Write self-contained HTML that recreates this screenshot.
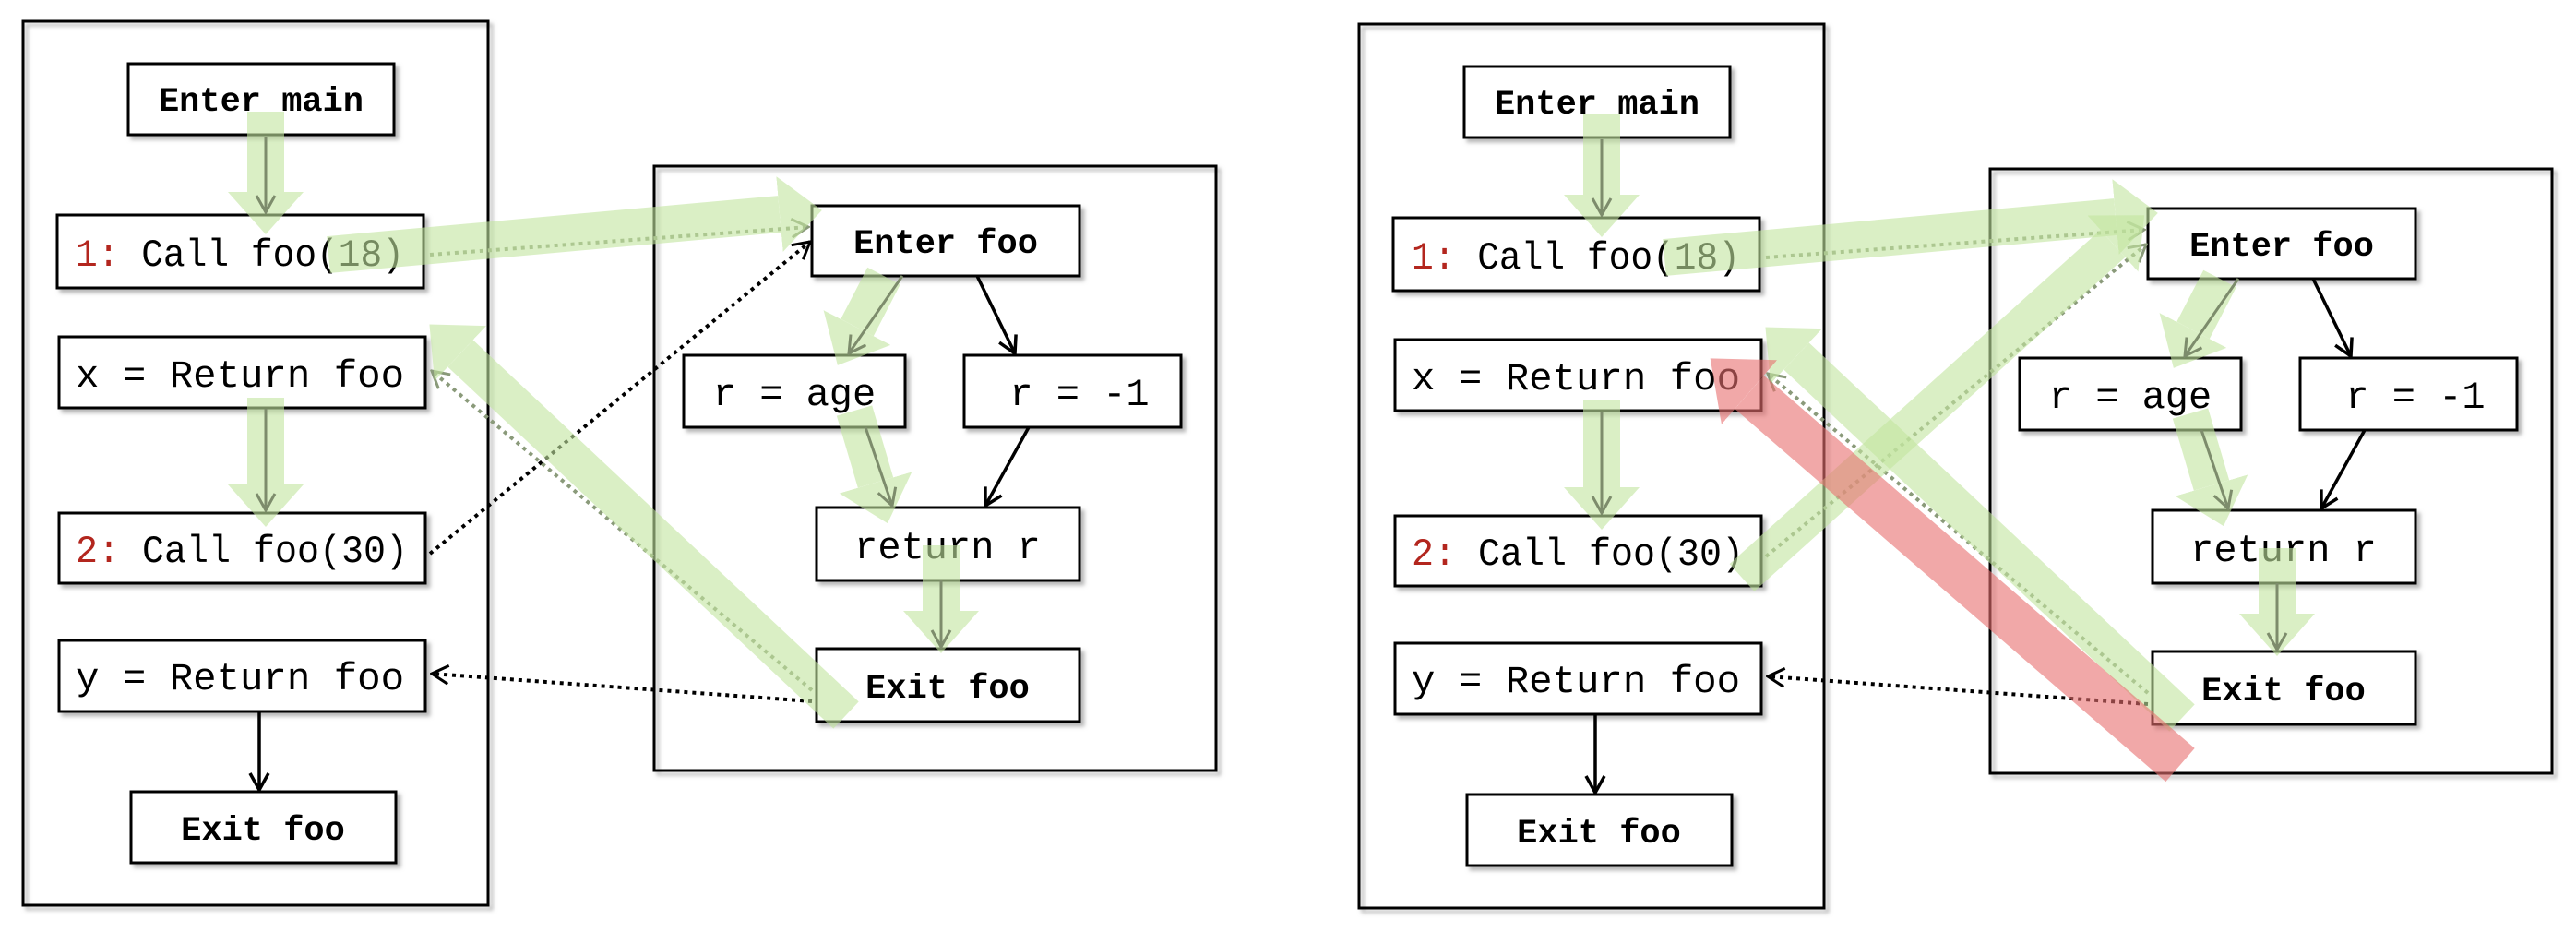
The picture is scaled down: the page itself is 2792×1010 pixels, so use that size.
<!DOCTYPE html>
<html><head><meta charset="utf-8"><style>
html,body{margin:0;padding:0;background:#fff;}
svg{display:block}
text{font-family:"Liberation Mono",monospace;font-size:42px;}
.b{font-weight:bold;font-size:37px;}
</style></head><body>
<svg width="2792" height="1010" viewBox="0 0 2792 1010" xmlns="http://www.w3.org/2000/svg">
<defs>
<filter id="sh" x="-5%" y="-5%" width="115%" height="125%"><feDropShadow dx="4" dy="4" stdDeviation="2" flood-color="#888" flood-opacity="0.6"/></filter>
<marker id="gh" markerUnits="userSpaceOnUse" markerWidth="46" markerHeight="82" refX="0" refY="41" orient="auto"><path d="M0,0 L46,41 L0,82Z" fill="#c3e6a0"/></marker>
<marker id="rh" markerUnits="userSpaceOnUse" markerWidth="56" markerHeight="92" refX="0" refY="46" orient="auto"><path d="M0,0 L56,46 L0,92Z" fill="#e87070"/></marker>
<marker id="ta" markerUnits="userSpaceOnUse" markerWidth="22" markerHeight="24" refX="20" refY="12" orient="auto"><path d="M2,2 L20,12 L2,22" fill="none" stroke="#7d8c6c" stroke-width="3"/></marker>
<marker id="ba" markerUnits="userSpaceOnUse" markerWidth="22" markerHeight="24" refX="20" refY="12" orient="auto"><path d="M2,2 L20,12 L2,22" fill="none" stroke="#000" stroke-width="3.5"/></marker>
<marker id="da" markerUnits="userSpaceOnUse" markerWidth="22" markerHeight="24" refX="20" refY="12" orient="auto"><path d="M2,2 L20,12 L2,22" fill="none" stroke="#000" stroke-width="3"/></marker>
<marker id="ga" markerUnits="userSpaceOnUse" markerWidth="22" markerHeight="24" refX="20" refY="12" orient="auto"><path d="M2,2 L20,12 L2,22" fill="none" stroke="#8a9a7a" stroke-width="3"/></marker>
</defs>

<!-- ================= LEFT DIAGRAM ================= -->
<g>
<rect x="25" y="23" width="504" height="958" fill="none" stroke="#000" stroke-width="3" filter="url(#sh)"/>
<rect x="709" y="180" width="609" height="655" fill="none" stroke="#000" stroke-width="3" filter="url(#sh)"/>
<g fill="#fff" stroke="#000" stroke-width="3" filter="url(#sh)">
<rect x="139" y="69" width="288" height="77"/>
<rect x="62" y="233" width="397" height="79"/>
<rect x="64" y="365" width="397" height="77"/>
<rect x="64" y="556" width="397" height="76"/>
<rect x="64" y="694" width="397" height="77"/>
<rect x="142" y="858" width="287" height="77"/>
<rect x="880" y="223" width="290" height="76"/>
<rect x="741" y="385" width="240" height="78"/>
<rect x="1045" y="385" width="235" height="78"/>
<rect x="885" y="550" width="285" height="79"/>
<rect x="885" y="703" width="285" height="79"/>
</g>
<text x="283" y="120" text-anchor="middle" class="b">Enter main</text>
<text x="82" y="288" textLength="356" lengthAdjust="spacingAndGlyphs"><tspan fill="#b3261e">1:</tspan> Call foo(18)</text>
<text x="82" y="419" textLength="356" lengthAdjust="spacingAndGlyphs">x = Return foo</text>
<text x="82" y="609" textLength="360" lengthAdjust="spacingAndGlyphs"><tspan fill="#b3261e">2:</tspan> Call foo(30)</text>
<text x="82" y="747" textLength="356" lengthAdjust="spacingAndGlyphs">y = Return foo</text>
<text x="285" y="910" text-anchor="middle" class="b">Exit foo</text>
<text x="1025" y="274" text-anchor="middle" class="b">Enter foo</text>
<text x="861" y="439" text-anchor="middle">r = age</text>
<text x="1170" y="439" text-anchor="middle">r = -1</text>
<text x="1027" y="605" text-anchor="middle">return r</text>
<text x="1027" y="756" text-anchor="middle" class="b">Exit foo</text>

<line x1="1059" y1="299" x2="1100" y2="383" stroke="#000" stroke-width="3.5" marker-end="url(#ba)"/>
<line x1="1115" y1="463" x2="1068" y2="548" stroke="#000" stroke-width="3.5" marker-end="url(#ba)"/>
<line x1="281" y1="771" x2="281" y2="856" stroke="#000" stroke-width="3.5" marker-end="url(#ba)"/>
<line x1="466" y1="600" x2="878" y2="262" stroke="#000" stroke-width="4" stroke-dasharray="4,5" marker-end="url(#da)"/>
<line x1="880" y1="760" x2="468" y2="730" stroke="#000" stroke-width="4" stroke-dasharray="4,5" marker-end="url(#da)"/>
<line x1="466" y1="276" x2="876" y2="246" stroke="#8a9a7a" stroke-width="4" stroke-dasharray="4,5" marker-end="url(#ga)"/>
<line x1="880" y1="748" x2="468" y2="402" stroke="#8a9a7a" stroke-width="4" stroke-dasharray="4,5" marker-end="url(#ga)"/>

<g opacity="0.6"><line x1="288" y1="121" x2="288" y2="208" stroke="#c3e6a0" stroke-width="40" marker-end="url(#gh)"/></g>
<g opacity="0.6"><line x1="356" y1="276" x2="845" y2="232" stroke="#c3e6a0" stroke-width="40" marker-end="url(#gh)"/></g>
<g opacity="0.6"><line x1="288" y1="431" x2="288" y2="525" stroke="#c3e6a0" stroke-width="40" marker-end="url(#gh)"/></g>
<g opacity="0.6"><line x1="917" y1="775" x2="499" y2="383" stroke="#c3e6a0" stroke-width="40" marker-end="url(#gh)"/></g>
<g opacity="0.6"><line x1="958" y1="299" x2="929" y2="355" stroke="#c3e6a0" stroke-width="40" marker-end="url(#gh)"/></g>
<g opacity="0.6"><line x1="926" y1="445" x2="949" y2="523" stroke="#c3e6a0" stroke-width="40" marker-end="url(#gh)"/></g>
<g opacity="0.6"><line x1="1020" y1="591" x2="1020" y2="662" stroke="#c3e6a0" stroke-width="40" marker-end="url(#gh)"/></g>

<line x1="288" y1="148" x2="288" y2="230" stroke="#7d8c6c" stroke-width="3" marker-end="url(#ta)"/>
<line x1="288" y1="443" x2="288" y2="553" stroke="#7d8c6c" stroke-width="3" marker-end="url(#ta)"/>
<line x1="978" y1="299" x2="920" y2="383" stroke="#7d8c6c" stroke-width="3" marker-end="url(#ta)"/>
<line x1="938" y1="463" x2="967" y2="548" stroke="#7d8c6c" stroke-width="3" marker-end="url(#ta)"/>
<line x1="1020" y1="629" x2="1020" y2="701" stroke="#7d8c6c" stroke-width="3" marker-end="url(#ta)"/>
</g>

<!-- ================= RIGHT DIAGRAM ================= -->
<g transform="translate(1448,3)">
<rect x="25" y="23" width="504" height="958" fill="none" stroke="#000" stroke-width="3" filter="url(#sh)"/>
<rect x="709" y="180" width="609" height="655" fill="none" stroke="#000" stroke-width="3" filter="url(#sh)"/>
<g fill="#fff" stroke="#000" stroke-width="3" filter="url(#sh)">
<rect x="139" y="69" width="288" height="77"/>
<rect x="62" y="233" width="397" height="79"/>
<rect x="64" y="365" width="397" height="77"/>
<rect x="64" y="556" width="397" height="76"/>
<rect x="64" y="694" width="397" height="77"/>
<rect x="142" y="858" width="287" height="77"/>
<rect x="880" y="223" width="290" height="76"/>
<rect x="741" y="385" width="240" height="78"/>
<rect x="1045" y="385" width="235" height="78"/>
<rect x="885" y="550" width="285" height="79"/>
<rect x="885" y="703" width="285" height="79"/>
</g>
<text x="283" y="120" text-anchor="middle" class="b">Enter main</text>
<text x="82" y="288" textLength="356" lengthAdjust="spacingAndGlyphs"><tspan fill="#b3261e">1:</tspan> Call foo(18)</text>
<text x="82" y="419" textLength="356" lengthAdjust="spacingAndGlyphs">x = Return foo</text>
<text x="82" y="609" textLength="360" lengthAdjust="spacingAndGlyphs"><tspan fill="#b3261e">2:</tspan> Call foo(30)</text>
<text x="82" y="747" textLength="356" lengthAdjust="spacingAndGlyphs">y = Return foo</text>
<text x="285" y="910" text-anchor="middle" class="b">Exit foo</text>
<text x="1025" y="274" text-anchor="middle" class="b">Enter foo</text>
<text x="861" y="439" text-anchor="middle">r = age</text>
<text x="1170" y="439" text-anchor="middle">r = -1</text>
<text x="1027" y="605" text-anchor="middle">return r</text>
<text x="1027" y="756" text-anchor="middle" class="b">Exit foo</text>

<line x1="1059" y1="299" x2="1100" y2="383" stroke="#000" stroke-width="3.5" marker-end="url(#ba)"/>
<line x1="1115" y1="463" x2="1068" y2="548" stroke="#000" stroke-width="3.5" marker-end="url(#ba)"/>
<line x1="281" y1="771" x2="281" y2="856" stroke="#000" stroke-width="3.5" marker-end="url(#ba)"/>
<line x1="880" y1="760" x2="468" y2="730" stroke="#000" stroke-width="4" stroke-dasharray="4,5" marker-end="url(#da)"/>
<line x1="466" y1="600" x2="878" y2="262" stroke="#8a9a7a" stroke-width="4" stroke-dasharray="4,5" marker-end="url(#ga)"/>
<line x1="466" y1="276" x2="876" y2="246" stroke="#8a9a7a" stroke-width="4" stroke-dasharray="4,5" marker-end="url(#ga)"/>
<line x1="880" y1="748" x2="468" y2="402" stroke="#8a9a7a" stroke-width="4" stroke-dasharray="4,5" marker-end="url(#ga)"/>

<g opacity="0.6"><line x1="288" y1="121" x2="288" y2="208" stroke="#c3e6a0" stroke-width="40" marker-end="url(#gh)"/></g>
<g opacity="0.6"><line x1="356" y1="276" x2="845" y2="232" stroke="#c3e6a0" stroke-width="40" marker-end="url(#gh)"/></g>
<g opacity="0.6"><line x1="288" y1="431" x2="288" y2="525" stroke="#c3e6a0" stroke-width="40" marker-end="url(#gh)"/></g>
<g opacity="0.6"><line x1="917" y1="775" x2="499" y2="383" stroke="#c3e6a0" stroke-width="40" marker-end="url(#gh)"/></g>
<g opacity="0.6"><line x1="440" y1="623" x2="842" y2="261" stroke="#c3e6a0" stroke-width="40" marker-end="url(#gh)"/></g>
<g opacity="0.6"><line x1="958" y1="299" x2="929" y2="355" stroke="#c3e6a0" stroke-width="40" marker-end="url(#gh)"/></g>
<g opacity="0.6"><line x1="926" y1="445" x2="949" y2="523" stroke="#c3e6a0" stroke-width="40" marker-end="url(#gh)"/></g>
<g opacity="0.6"><line x1="1020" y1="591" x2="1020" y2="662" stroke="#c3e6a0" stroke-width="40" marker-end="url(#gh)"/></g>
<g opacity="0.6"><line x1="915" y1="826" x2="448" y2="422" stroke="#e87070" stroke-width="48" marker-end="url(#rh)"/></g>

<line x1="288" y1="148" x2="288" y2="230" stroke="#7d8c6c" stroke-width="3" marker-end="url(#ta)"/>
<line x1="288" y1="443" x2="288" y2="553" stroke="#7d8c6c" stroke-width="3" marker-end="url(#ta)"/>
<line x1="978" y1="299" x2="920" y2="383" stroke="#7d8c6c" stroke-width="3" marker-end="url(#ta)"/>
<line x1="938" y1="463" x2="967" y2="548" stroke="#7d8c6c" stroke-width="3" marker-end="url(#ta)"/>
<line x1="1020" y1="629" x2="1020" y2="701" stroke="#7d8c6c" stroke-width="3" marker-end="url(#ta)"/>
</g>
</svg>
</body></html>
